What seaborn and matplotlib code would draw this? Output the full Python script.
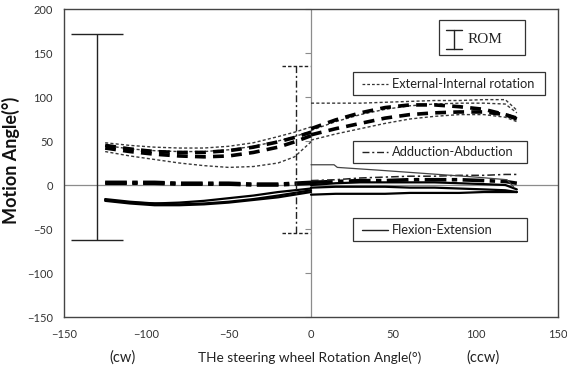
import numpy as np
import pandas as pd
import matplotlib
matplotlib.use("Agg")
import matplotlib.pyplot as plt
import seaborn as sns

# ---------------- data ----------------
x_left = [-125, -110, -95, -80, -65, -50, -35, -20, -10, 0]
x_right = [0, 15, 30, 45, 60, 75, 90, 105, 118, 125]

# External-Internal rotation (thin dotted traces)
ei_thin_left = [
    [48, 45, 43, 42, 42, 44, 48, 55, 60, 66],
    [45, 41, 39, 38, 38, 40, 44, 50, 55, 61],
    [38, 33, 29, 25, 22, 20, 21, 25, 32, 49],
]
ei_thin_right = [
    [93, 93, 93, 94, 95, 96, 96, 97, 97, 85],
    [62, 72, 80, 86, 90, 92, 93, 93, 92, 82],
    [51, 58, 64, 70, 75, 78, 80, 80, 77, 72],
]
# External-Internal rotation (thick dashed means)
ei_thick_left = [
    [45, 41, 38, 37, 37, 39, 43, 49, 54, 60],
    [42, 38, 35, 33, 32, 33, 37, 43, 49, 56],
]
ei_thick_right = [
    [64, 74, 82, 88, 91, 91, 89, 86, 80, 76],
    [57, 64, 70, 76, 80, 82, 83, 83, 80, 75],
]

# Adduction-Abduction
aa_left = [
    [2, 2, 2, 1, 1, 1, 0, 0, 1, 2],
    [3, 3, 3, 2, 2, 2, 1, 1, 2, 3],
]
aa_right = [
    [3, 4, 5, 5, 6, 6, 6, 5, 4, 2],
    [5, 6, 8, 9, 10, 10, 11, 11, 12, 12],
]

# Flexion-Extension
fe_left = [
    [-16, -19, -21, -22, -21, -19, -16, -12, -9, -6],
    [-18, -21, -23, -23, -22, -20, -17, -14, -11, -8],
    [-17, -20, -21, -20, -18, -15, -12, -8, -6, -4],
]
fe_right = [
    [0, 2, 3, 3, 3, 3, 2, 1, 0, -5],
    [-3, -2, -2, -2, -3, -3, -4, -5, -6, -8],
    [-11, -10, -10, -10, -9, -9, -9, -8, -8, -8],
]
fe_step_x = [0, 14, 16, 40, 70, 100, 119, 123]
fe_step_y = [23, 23, 20, 17, 13, 9, 6, -2]

# ROM bars
rom_x = [-130, -9]
rom_low = [-63, -55]
rom_high = [172, 135]

xticks = [-150, -100, -50, 0, 50, 100, 150]
yticks = [-150, -100, -50, 0, 50, 100, 150, 200]

# ---------------- figure ----------------
sns.set_theme(style="white")
plt.rcParams["font.family"] = ["Lato", "DejaVu Sans"]

fig = plt.figure(figsize=(5.67, 3.76), dpi=100)
ax = fig.add_axes([64 / 567, 1 - 317 / 376, 494 / 567, 308 / 376])

# zero axes
ax.axhline(0, color="#8c8c8c", lw=0.9, zorder=1)
ax.axvline(0, color="#8c8c8c", lw=0.9, zorder=1)
ax.plot([0] * len(yticks), yticks, ls="none", marker=0, ms=4, mew=0.8,
        color="#8c8c8c", clip_on=False, zorder=1)

def draw(xs, ys, **kw):
    sns.lineplot(x=xs, y=ys, ax=ax, sort=False, estimator=None, legend=False, **kw)

for ys in ei_thin_left:
    draw(x_left, ys, color="#3a3a3a", lw=1.0, dashes=(2.2, 1.6))
for ys in ei_thin_right:
    draw(x_right, ys, color="#3a3a3a", lw=1.0, dashes=(2.2, 1.6))
for ys in ei_thick_left:
    draw(x_left, ys, color="black", lw=2.6, dashes=(3, 2))
for ys in ei_thick_right:
    draw(x_right, ys, color="black", lw=2.6, dashes=(3, 2))

for ys in aa_left:
    draw(x_left, ys, color="black", lw=2.6, dashes=(6, 1.5, 1.5, 1.5))
draw(x_right, aa_right[0], color="black", lw=2.6, dashes=(6, 1.5, 1.5, 1.5))
draw(x_right, aa_right[1], color="#222222", lw=1.1, dashes=(5, 2, 1.5, 2))

for ys in fe_left:
    draw(x_left, ys, color="black", lw=1.6)
for ys in fe_right:
    draw(x_right, ys, color="black", lw=1.6)
draw(fe_step_x, fe_step_y, color="#444444", lw=0.9)

# ROM bars
ax.errorbar([rom_x[0]], [(rom_low[0] + rom_high[0]) / 2],
            yerr=[[(rom_high[0] - rom_low[0]) / 2]], fmt="none",
            ecolor="#222222", elinewidth=1.0, capsize=19, capthick=1.0)
eb = ax.errorbar([rom_x[1]], [(rom_low[1] + rom_high[1]) / 2],
                 yerr=[[(rom_high[1] - rom_low[1]) / 2]], fmt="none",
                 ecolor="#222222", elinewidth=1.0, capsize=19, capthick=1.0)
eb[2][0].set_linestyle((0, (5, 2, 1.5, 2)))
for c in eb[1]:
    c.set_visible(False)
ax.plot([rom_x[1] - 8.5, rom_x[1] + 8.5], [rom_high[1]] * 2, color="#222222",
        lw=1.0, dashes=(2.5, 1.5))
ax.plot([rom_x[1] - 8.5, rom_x[1] + 8.5], [rom_low[1]] * 2, color="#222222",
        lw=1.0, dashes=(2.5, 1.5))

# legend boxes
def box(x0, x1, y0, y1):
    ax.add_patch(plt.Rectangle((x0, y0), x1 - x0, y1 - y0, fill=True,
                               facecolor="white", edgecolor="#333333", lw=0.9,
                               zorder=5))

box(78, 130, 148, 187)
ax.plot([87, 87], [154, 176], color="#222222", lw=1.0, zorder=6)
ax.plot([82, 92], [176, 176], color="#222222", lw=1.0, zorder=6)
ax.plot([82, 92], [154, 154], color="#222222", lw=1.0, zorder=6)
ax.text(95, 165, "ROM", family=["Liberation Serif"], fontsize=11,
        va="center", ha="left", zorder=6, color="#222222")

box(25.5, 142, 102, 128)
ax.plot([31, 47], [115, 115], color="#333333", lw=0.9, dashes=(2.2, 1.6), zorder=6)
ax.text(49, 115, "External-Internal rotation", fontsize=9.3, va="center",
        ha="left", zorder=6, color="#222222")

box(25.5, 131, 25, 50)
ax.plot([31, 47], [37.5, 37.5], color="#222222", lw=1.0,
        dashes=(5, 2, 1.5, 2), zorder=6)
ax.text(49, 37.5, "Adduction-Abduction", fontsize=9.3, va="center",
        ha="left", zorder=6, color="#222222")

box(25.5, 131, -64, -37.5)
ax.plot([31, 47], [-51, -51], color="#222222", lw=1.0, zorder=6)
ax.text(49, -51, "Flexion-Extension", fontsize=9.3, va="center",
        ha="left", zorder=6, color="#222222")

ax.set_xlim(-150, 150)
ax.set_ylim(-150, 200)
ax.set_xticks(xticks)
ax.set_yticks(yticks)
ax.tick_params(axis="both", length=0, labelsize=8, colors="#333333", pad=8)
ax.tick_params(axis="x", pad=9)
for s in ax.spines.values():
    s.set_color("#444444")
    s.set_linewidth(1.0)

ax.set_ylabel("Motion Angle(°)", fontsize=13, fontweight="bold", color="#111111")
ax.yaxis.set_label_coords(-0.089, 0.51)
fig.text(123 / 567, 1 - 358 / 376, "(cw)", fontsize=10.5, ha="center",
         va="center", color="#222222")
fig.text(310 / 567, 1 - 358 / 376, "THe steering wheel Rotation Angle(°)",
         fontsize=9.8, ha="center", va="center", color="#222222")
fig.text(483 / 567, 1 - 358 / 376, "(ccw)", fontsize=10.5, ha="center",
         va="center", color="#222222")

fig.savefig("out.png", dpi=100, facecolor="white")
